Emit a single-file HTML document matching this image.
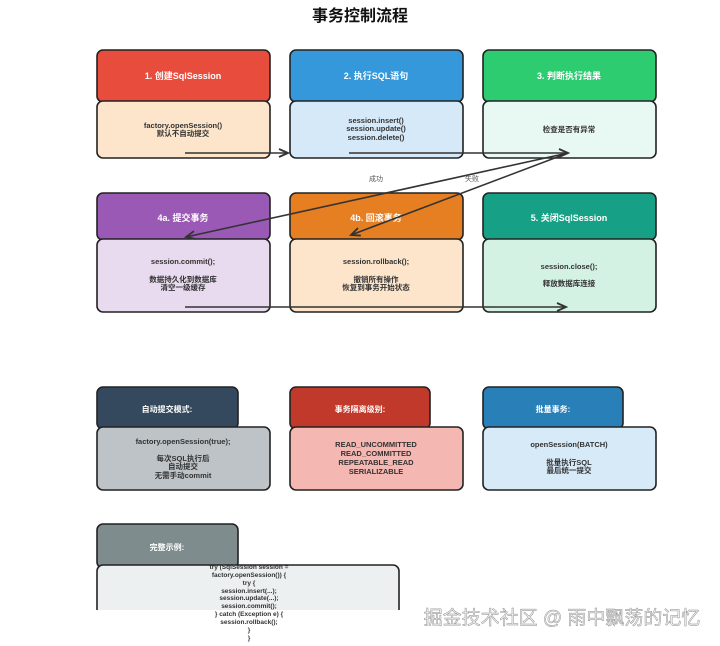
<!DOCTYPE html>
<html><head><meta charset="utf-8"><style>
html,body{margin:0;padding:0;background:#fff;}
svg{display:block;}
text{font-family:"Liberation Sans","Noto Sans CJK SC",sans-serif;font-weight:bold;}
</style></head><body>
<svg width="720" height="646" viewBox="0 0 720 646" xmlns="http://www.w3.org/2000/svg">
<defs>
<marker id="ah" markerWidth="12" markerHeight="10" refX="10" refY="5" orient="auto" markerUnits="userSpaceOnUse">
<path d="M1,1 L10,5 L1,9" fill="none" stroke="#333" stroke-width="1.8"/>
</marker>
</defs>
<text x="360" y="21" text-anchor="middle" font-size="16" fill="#111">事务控制流程</text>

<g stroke="#222" stroke-width="1.6">
<rect x="97" y="50" width="173" height="52" rx="6" fill="#e74c3c"/>
<rect x="97" y="101" width="173" height="57" rx="6" fill="#fde5cc"/>
<rect x="290" y="50" width="173" height="52" rx="6" fill="#3498db"/>
<rect x="290" y="101" width="173" height="57" rx="6" fill="#d6e9f8"/>
<rect x="483" y="50" width="173" height="52" rx="6" fill="#2ecc71"/>
<rect x="483" y="101" width="173" height="57" rx="6" fill="#e8f8f2"/>
<rect x="97" y="193" width="173" height="47" rx="6" fill="#9b59b6"/>
<rect x="97" y="239" width="173" height="73" rx="6" fill="#e8daef"/>
<rect x="290" y="193" width="173" height="47" rx="6" fill="#e67e22"/>
<rect x="290" y="239" width="173" height="73" rx="6" fill="#fde5cc"/>
<rect x="483" y="193" width="173" height="47" rx="6" fill="#16a085"/>
<rect x="483" y="239" width="173" height="73" rx="6" fill="#d4f2e4"/>
<rect x="97" y="387" width="141" height="42" rx="6" fill="#34495e"/>
<rect x="97" y="427" width="173" height="63" rx="6" fill="#bdc3c7"/>
<rect x="290" y="387" width="140" height="42" rx="6" fill="#c0392b"/>
<rect x="290" y="427" width="173" height="63" rx="6" fill="#f5b7b1"/>
<rect x="483" y="387" width="140" height="42" rx="6" fill="#2980b9"/>
<rect x="483" y="427" width="173" height="63" rx="6" fill="#d6eaf8"/>
<rect x="97" y="524" width="141" height="44" rx="6" fill="#7f8c8d"/>
<rect x="97" y="565" width="302" height="60" rx="6" fill="#ecf0f1"/>
</g>
<rect x="90" y="610" width="320" height="36" fill="#fff"/>

<g fill="#fff" font-size="9" text-anchor="middle">
<text x="183" y="79">1. 创建SqlSession</text>
<text x="376" y="79">2. 执行SQL语句</text>
<text x="569" y="79">3. 判断执行结果</text>
<text x="183" y="221">4a. 提交事务</text>
<text x="376" y="221">4b. 回滚事务</text>
<text x="569" y="221">5. 关闭SqlSession</text>
<text x="167" y="412" font-size="8">自动提交模式:</text>
<text x="360" y="412" font-size="8">事务隔离级别:</text>
<text x="553" y="412" font-size="8">批量事务:</text>
<text x="167" y="550" font-size="8">完整示例:</text>
</g>

<g fill="#333" font-size="7.5" text-anchor="middle">
<text x="183" y="128">factory.openSession()</text>
<text x="183" y="136">默认不自动提交</text>
<text x="376" y="123">session.insert()</text>
<text x="376" y="131">session.update()</text>
<text x="376" y="140">session.delete()</text>
<text x="569" y="132">检查是否有异常</text>
<text x="183" y="264">session.commit();</text>
<text x="183" y="282">数据持久化到数据库</text>
<text x="183" y="290">清空一级缓存</text>
<text x="376" y="264">session.rollback();</text>
<text x="376" y="282">撤销所有操作</text>
<text x="376" y="290">恢复到事务开始状态</text>
<text x="569" y="269">session.close();</text>
<text x="569" y="286">释放数据库连接</text>
<text x="183" y="444">factory.openSession(true);</text>
<text x="183" y="461">每次SQL执行后</text>
<text x="183" y="469">自动提交</text>
<text x="183" y="478">无需手动commit</text>
<text x="376" y="447">READ_UNCOMMITTED</text>
<text x="376" y="456">READ_COMMITTED</text>
<text x="376" y="465">REPEATABLE_READ</text>
<text x="376" y="474">SERIALIZABLE</text>
<text x="569" y="447">openSession(BATCH)</text>
<text x="569" y="465">批量执行SQL</text>
<text x="569" y="473">最后统一提交</text>
</g>
<g fill="#333" font-size="6.5" text-anchor="middle">
<text x="249" y="569">try (SqlSession session =</text>
<text x="249" y="577">factory.openSession()) {</text>
<text x="249" y="585">try {</text>
<text x="249" y="593">session.insert(...);</text>
<text x="249" y="600">session.update(...);</text>
<text x="249" y="608">session.commit();</text>
<text x="249" y="616">} catch (Exception e) {</text>
<text x="249" y="624">session.rollback();</text>
<text x="249" y="632">}</text>
<text x="249" y="640">}</text>
</g>

<g stroke="#333" stroke-width="1.6" fill="none" marker-end="url(#ah)">
<line x1="185" y1="153" x2="288" y2="153"/>
<line x1="349" y1="153" x2="568" y2="153"/>
<line x1="568" y1="153" x2="186" y2="237"/>
<line x1="568" y1="153" x2="351" y2="235"/>
<line x1="185" y1="307" x2="566" y2="307"/>
</g>
<text x="376" y="181" text-anchor="middle" font-size="7" fill="#555" style="font-weight:normal">成功</text>
<text x="472" y="181" text-anchor="middle" font-size="7" fill="#555" style="font-weight:normal">失败</text>

<text x="562" y="624" text-anchor="middle" font-size="19" fill="#f2f2f2" stroke="#8a8a8a" stroke-width="0.45" style="font-weight:normal">掘金技术社区 @ 雨中飘荡的记忆</text>
</svg>
</body></html>
